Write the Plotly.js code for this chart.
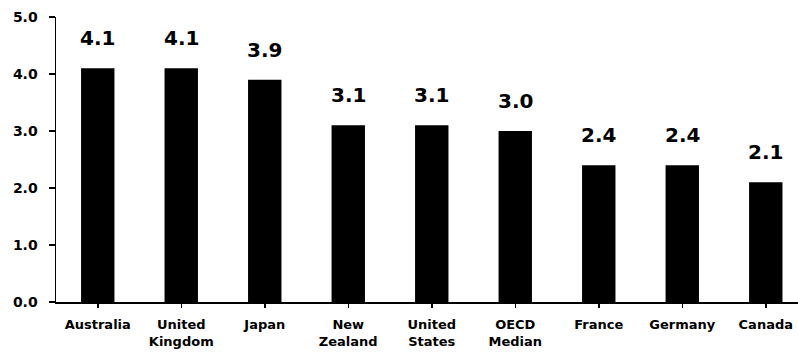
<!DOCTYPE html>
<html>
<head>
<meta charset="utf-8">
<script src="https://cdn.plot.ly/plotly-3.0.1.min.js"></script>
<style>
  html, body { margin: 0; padding: 0; background: #ffffff; }
  #chart { width: 798px; height: 354px; }
</style>
</head>
<body>
<div id="chart"></div>
<script>
// Countries compared, left to right
const categories = ["Australia", "United Kingdom", "Japan", "New Zealand", "United States",
                    "OECD Median", "France", "Germany", "Canada"];
// Two-line axis labels for each country
const tickLabels = ["Australia", "United<br>Kingdom", "Japan", "New<br>Zealand", "United<br>States",
                    "OECD<br>Median", "France", "Germany", "Canada"];
// Value shown above each bar
const values = [4.1, 4.1, 3.9, 3.1, 3.1, 3.0, 2.4, 2.4, 2.1];
// Value axis ticks
const yTicks = [0, 1, 2, 3, 4, 5];

const FONT = "DejaVu Sans, Arial, sans-serif";
const idx = categories.map((_, i) => i);

const trace = {
  type: "bar",
  x: idx,
  y: values,
  marker: { color: "#000000", line: { width: 0 } },
  width: 0.4,
  hoverinfo: "skip"
};

const annotations = values.map((v, i) => ({
  x: i,
  y: v,
  xref: "x",
  yref: "y",
  text: v.toFixed(1),
  showarrow: false,
  xanchor: "center",
  yanchor: "bottom",
  yshift: 16,
  font: { family: FONT, size: 20, color: "#000000", weight: "bold" }
}));

const layout = {
  width: 798,
  height: 354,
  margin: { l: 56, r: 0, t: 17, b: 52, pad: 0 },
  paper_bgcolor: "#ffffff",
  plot_bgcolor: "#ffffff",
  showlegend: false,
  xaxis: {
    range: [-0.5, 8.386],
    tickmode: "array",
    tickvals: idx,
    ticktext: tickLabels,
    tickson: "boundaries",
    ticks: "outside",
    ticklen: 4,
    tickwidth: 1.5,
    tickcolor: "#000000",
    showline: true,
    linecolor: "#000000",
    linewidth: 1.5,
    showgrid: false,
    zeroline: false,
    ticklabelstandoff: 6,
    tickfont: { family: FONT, size: 13, color: "#000000", weight: "bold" },
    fixedrange: true
  },
  yaxis: {
    range: [0, 5],
    tickmode: "array",
    tickvals: yTicks,
    ticktext: yTicks.map(t => t.toFixed(1)),
    ticks: "outside",
    ticklen: 6,
    tickwidth: 1.5,
    tickcolor: "#000000",
    showline: true,
    linecolor: "#000000",
    linewidth: 1.5,
    showgrid: false,
    zeroline: false,
    ticklabelstandoff: 8,
    tickfont: { family: FONT, size: 14, color: "#000000", weight: "bold" },
    fixedrange: true
  },
  annotations: annotations
};

Plotly.newPlot("chart", [trace], layout, { staticPlot: true, displayModeBar: false });
</script>
</body>
</html>
